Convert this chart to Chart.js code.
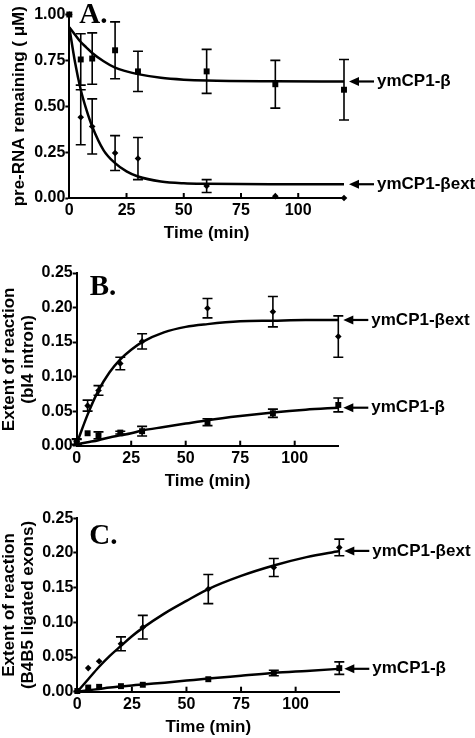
<!DOCTYPE html>
<html>
<head>
<meta charset="utf-8">
<script src="https://cdn.jsdelivr.net/npm/chart.js@4.4.1/dist/chart.umd.min.js"></script>
<style>
  body { margin: 0; background: #fff; }
  .panel { position: absolute; left: 0; width: 475px; }
</style>
</head>
<body>
<div class="panel" style="top:0"><canvas id="chartA" width="475" height="250"></canvas></div>
<div class="panel" style="top:240px"><canvas id="chartB" width="475" height="260"></canvas></div>
<div class="panel" style="top:480px"><canvas id="chartC" width="475" height="258"></canvas></div>
<script>
// sampling times (min)
const times = [0, 5, 10, 20, 30, 60, 90, 120];
const aFitTimes = [0, 2.5, 5, 7.5, 10, 15, 20, 25, 30, 40, 50, 60, 90, 120];
const fitTimes = [0, 5, 10, 15, 20, 25, 30, 40, 50, 60, 75, 90, 105, 120];

// A. pre-RNA remaining
const aBeta = [1.00, 0.755, 0.76, 0.805, 0.69, 0.69, 0.62, 0.59];
const aBetaErr = [0, 0.14, 0.14, 0.155, 0.11, 0.12, 0.13, 0.165];
const aExt = [1.00, 0.44, 0.39, 0.245, 0.215, 0.065, 0.01, 0.00];
const aExtErr = [0, 0.15, 0.15, 0.095, 0.115, 0.035, 0, 0];
const aBetaFit = [0.93, 0.89, 0.85, 0.82, 0.79, 0.745, 0.71, 0.69, 0.675, 0.655, 0.645, 0.64, 0.636, 0.635];
const aExtFit = [0.93, 0.74, 0.59, 0.48, 0.39, 0.26, 0.19, 0.145, 0.117, 0.09, 0.08, 0.077, 0.075, 0.075];

// B. bI4 intron
const bExt = [0.006, 0.058, 0.080, 0.119, 0.151, 0.199, 0.194, 0.158];
const bExtErr = [0.004, 0.008, 0.007, 0.009, 0.011, 0.014, 0.022, 0.030];
const bBeta = [0.005, 0.018, 0.015, 0.019, 0.021, 0.034, 0.047, 0.059];
const bBetaErr = [0.004, 0, 0.005, 0.002, 0.007, 0.005, 0.006, 0.010];
const bExtFit = [0.003, 0.045, 0.080, 0.106, 0.125, 0.139, 0.150, 0.164, 0.172, 0.176, 0.180, 0.181, 0.182, 0.182];
const bBetaFit = [0.002, 0.005, 0.008, 0.012, 0.015, 0.018, 0.022, 0.027, 0.032, 0.037, 0.043, 0.048, 0.052, 0.055];

// C. B4B5 ligated exons
const cExt = [0.001, 0.034, 0.044, 0.069, 0.093, 0.148, 0.179, 0.208];
const cExtErr = [0, 0, 0, 0.010, 0.017, 0.021, 0.013, 0.012];
const cBeta = [0.001, 0.006, 0.007, 0.008, 0.010, 0.018, 0.027, 0.034];
const cBetaErr = [0, 0, 0, 0, 0, 0, 0.004, 0.009];
const cExtFit = [0, 0.018, 0.036, 0.052, 0.066, 0.080, 0.092, 0.113, 0.131, 0.148, 0.167, 0.182, 0.194, 0.203];
const cBetaFit = [0, 0.002, 0.004, 0.006, 0.0075, 0.009, 0.0105, 0.013, 0.016, 0.019, 0.023, 0.027, 0.030, 0.033];

const BETA = 'ymCP1-\u03b2';
const BETA_EXT = 'ymCP1-\u03b2ext';
const SANS = 'Liberation Sans, Arial, sans-serif';

Chart.defaults.font.family = SANS;
Chart.defaults.font.weight = 'bold';
Chart.defaults.color = '#000';

const pts = (xs, ys) => xs.map((x, i) => ({ x: x, y: ys[i] }));

// error bars, inward x ticks, arrow labels, panel letter
const annotPlugin = {
    id: 'annot',
    afterDatasetsDraw(chart, args, opts) {
        const ctx = chart.ctx;
        const { left, right, top, bottom } = chart.chartArea;
        const xs = chart.scales.x, ys = chart.scales.y;
        ctx.save();
        ctx.strokeStyle = '#000';
        ctx.fillStyle = '#000';

        chart.data.datasets.forEach((ds, i) => {
            if (!ds.errors) return;
            const meta = chart.getDatasetMeta(i);
            meta.data.forEach((pt, j) => {
                const e = ds.errors[j];
                if (!e) return;
                const v = ds.data[j].y;
                const y1 = ys.getPixelForValue(v + e), y2 = ys.getPixelForValue(v - e);
                ctx.lineWidth = 1.6;
                ctx.beginPath();
                ctx.moveTo(pt.x, y1); ctx.lineTo(pt.x, y2);
                ctx.moveTo(pt.x - 5, y1); ctx.lineTo(pt.x + 5, y1);
                ctx.moveTo(pt.x - 5, y2); ctx.lineTo(pt.x + 5, y2);
                ctx.stroke();
            });
        });

        ctx.lineWidth = 2;
        xs.ticks.forEach(t => {
            if (t.value === 0) return;
            const px = xs.getPixelForValue(t.value);
            ctx.beginPath();
            ctx.moveTo(px, bottom);
            ctx.lineTo(px, bottom - 5);
            ctx.stroke();
        });

        ctx.font = 'bold 17px ' + SANS;
        ctx.textBaseline = 'middle';
        opts.arrows.forEach(a => {
            const y = ys.getPixelForValue(a.value);
            const tip = right + 5;
            ctx.beginPath();
            ctx.moveTo(tip, y);
            ctx.lineTo(tip + 10, y - 4.5);
            ctx.lineTo(tip + 10, y + 4.5);
            ctx.closePath();
            ctx.fill();
            ctx.lineWidth = 2.2;
            ctx.beginPath();
            ctx.moveTo(tip + 9, y);
            ctx.lineTo(tip + 25, y);
            ctx.stroke();
            ctx.fillText(a.text, tip + 28, y);
        });

        ctx.font = 'bold 29px Liberation Serif, Times New Roman, serif';
        ctx.textBaseline = 'alphabetic';
        ctx.fillText(opts.letter, left + opts.letterDx, top + opts.letterDy);
        ctx.restore();
    }
};

function makePanel(id, p) {
    const ctx = document.getElementById(id).getContext('2d');
    return new Chart(ctx, {
        type: 'line',
        data: {
            datasets: [
                {
                    data: pts(p.fitX, p.extFit),
                    borderColor: '#000', borderWidth: 2.5,
                    pointRadius: 0, cubicInterpolationMode: 'monotone', clip: false
                },
                {
                    data: pts(p.fitX, p.betaFit),
                    borderColor: '#000', borderWidth: 2.5,
                    pointRadius: 0, cubicInterpolationMode: 'monotone', clip: false
                },
                {
                    data: pts(times, p.beta),
                    errors: p.betaErr,
                    showLine: false, pointStyle: 'rect', pointRadius: 4.2,
                    pointBackgroundColor: '#000', pointBorderWidth: 0, clip: false
                },
                {
                    data: pts(times, p.ext),
                    errors: p.extErr,
                    showLine: false, pointStyle: 'rectRot', pointRadius: 3.3,
                    pointBackgroundColor: '#000', pointBorderWidth: 0, clip: false
                }
            ]
        },
        options: {
            responsive: false,
            animation: false,
            layout: { padding: { top: p.padTop, right: p.padRight, bottom: p.padBottom, left: 0 } },
            plugins: {
                legend: { display: false },
                tooltip: { enabled: false },
                annot: {
                    arrows: p.arrows,
                    letter: p.letter, letterDx: p.letterDx, letterDy: p.letterDy
                }
            },
            scales: {
                x: {
                    type: 'linear', min: 0, max: 120,
                    border: { color: '#000', width: 2 },
                    grid: { drawOnChartArea: false, drawTicks: false },
                    ticks: { stepSize: 25, includeBounds: false, padding: 3, maxRotation: 0, font: { size: 16, weight: 'bold' } },
                    title: { display: true, text: 'Time (min)', font: { size: 17, weight: 'bold' }, padding: { top: 0, bottom: 0 } },
                    afterFit: s => { s.height = 46; }
                },
                y: {
                    min: 0, max: p.yMax,
                    border: { color: '#000', width: 2 },
                    grid: { drawOnChartArea: false, drawTicks: true, tickLength: 4, tickColor: '#000', tickWidth: 2 },
                    ticks: { stepSize: p.yStep, padding: 0, font: { size: 16, weight: 'bold' }, callback: v => v.toFixed(2) },
                    title: { display: true, text: p.yTitle, font: { size: 17, weight: 'bold', lineHeight: 1.1 }, padding: { top: p.yTitlePad, bottom: 0 } },
                    afterFit: s => { s.width = p.yWidth; }
                }
            }
        },
        plugins: [annotPlugin]
    });
}

makePanel('chartA', {
    fitX: aFitTimes, extFit: aExtFit, betaFit: aBetaFit,
    beta: aBeta, betaErr: aBetaErr, ext: aExt, extErr: aExtErr,
    yMax: 1, yStep: 0.25, yTitle: 'pre-RNA remaining ( \u03bcM)', yTitlePad: 10,
    yWidth: 69.3, padTop: 14.5, padRight: 131, padBottom: 6,
    arrows: [
        { value: aBetaFit[aBetaFit.length - 1], text: BETA },
        { value: aExtFit[aExtFit.length - 1], text: BETA_EXT }
    ],
    letter: 'A.', letterDx: 10, letterDy: 8
});

makePanel('chartB', {
    fitX: fitTimes, extFit: bExtFit, betaFit: bBetaFit,
    beta: bBeta, betaErr: bBetaErr, ext: bExt, extErr: bExtErr,
    yMax: 0.25, yStep: 0.05, yTitle: ['Extent of reaction', '(bI4 intron)'], yTitlePad: 0,
    yWidth: 76.7, padTop: 33, padRight: 136.7, padBottom: 8.3,
    arrows: [
        { value: bExtFit[bExtFit.length - 1], text: BETA_EXT },
        { value: bBetaFit[bBetaFit.length - 1], text: BETA }
    ],
    letter: 'B.', letterDx: 13, letterDy: 22
});

makePanel('chartC', {
    fitX: fitTimes, extFit: cExtFit, betaFit: cBetaFit,
    beta: cBeta, betaErr: cBetaErr, ext: cExt, extErr: cExtErr,
    yMax: 0.25, yStep: 0.05, yTitle: ['Extent of reaction', '(B4B5 ligated exons)'], yTitlePad: 0,
    yWidth: 77.3, padTop: 38.3, padRight: 135.7, padBottom: 0.3,
    arrows: [
        { value: cExtFit[cExtFit.length - 1], text: BETA_EXT },
        { value: cBetaFit[cBetaFit.length - 1], text: BETA }
    ],
    letter: 'C.', letterDx: 12, letterDy: 26
});
</script>
</body>
</html>
